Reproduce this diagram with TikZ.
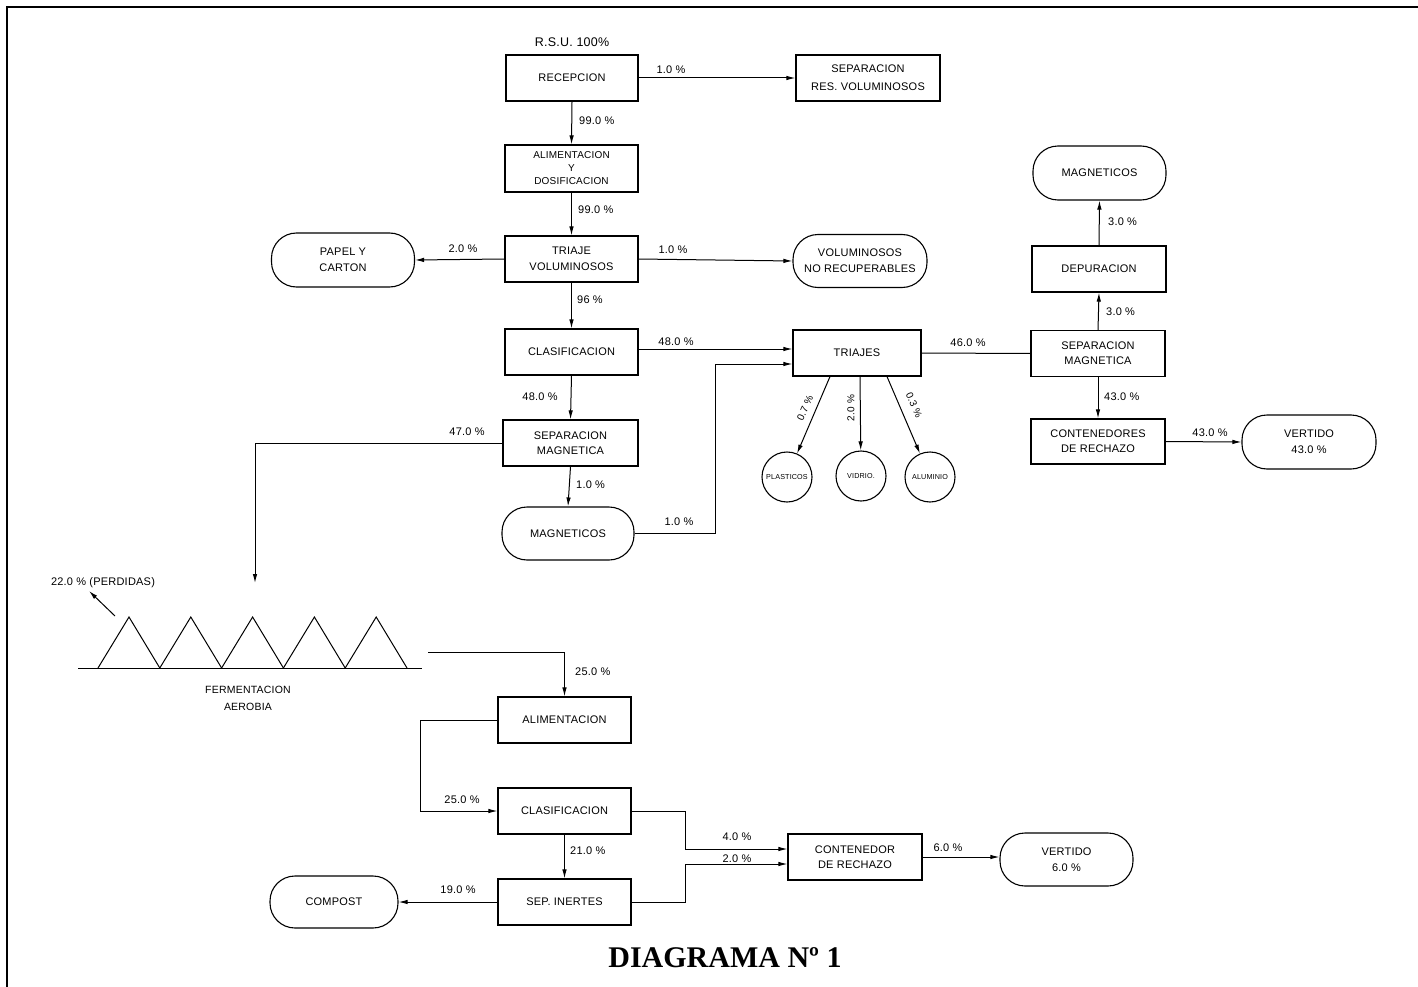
\documentclass[tikz,border=0pt]{standalone}
\usepackage{fontspec}
\setmainfont[LetterSpace=2]{Liberation Sans}
\newfontfamily\titlefont{Liberation Serif}
\usetikzlibrary{arrows.meta,calc}
\tikzset{
  box/.style={draw, line width=1.1pt, minimum width=133pt, minimum height=46pt, inner sep=0pt, align=center, font=\fontsize{11}{13}\selectfont},
  rbox/.style={draw, line width=1.1pt, rounded corners=25pt, minimum height=54pt, inner sep=0pt, align=center, font=\fontsize{11}{16}\selectfont},
  circ/.style={draw, line width=1.1pt, circle, minimum size=50pt, inner sep=0pt, font=\fontsize{7.2}{8}\selectfont},
  lbl/.style={inner sep=0pt, font=\fontsize{11}{13}\selectfont},
  arr/.style={line width=1pt, -{Latex[length=9pt,width=4.5pt]}},
  ln/.style={line width=1pt},
}
\begin{document}
\begin{tikzpicture}[x=1pt,y=-1pt]
\useasboundingbox (0,0) rectangle (1418,987);
% frame
\draw[line width=1.6pt] (7,987) -- (7,7) -- (1418,7);

% ---- top column ----
\node[lbl, font=\fontsize{12.5}{14}\selectfont] (rsu) at (572,42) {R.S.U. 100\%};
\node[box, minimum width=132pt] (rec) at (572,78) {RECEPCION};
\node[box, minimum width=144pt] (sepvol) at (868,78) {SEPARACION\\[5pt]RES. VOLUMINOSOS};
\node[box, minimum height=47pt, font=\fontsize{10}{13}\selectfont] (alim) at (571.5,168.5) {ALIMENTACION\\Y\\DOSIFICACION};
\node[box] (triv) at (571.5,259) {TRIAJE\\[3pt]VOLUMINOSOS};
\node[rbox, minimum width=143pt] (papel) at (343,260) {PAPEL Y\\CARTON};
\node[rbox, minimum width=134pt, minimum height=53pt] (volnr) at (860,261) {VOLUMINOSOS\\NO RECUPERABLES};
\node[box] (clas) at (571.5,352) {CLASIFICACION};
\node[box, minimum width=135pt] (sepml) at (570.5,443) {SEPARACION\\[2pt]MAGNETICA};
\node[rbox, minimum width=132pt, minimum height=53pt] (magl) at (568,533.5) {MAGNETICOS};

% ---- triajes ----
\node[box, minimum width=128pt] (triajes) at (857,353) {TRIAJES};
\node[circ] (plast) at (787,477) {PLASTICOS};
\node[circ] (vidrio) at (861,476) {VIDRIO.};
\node[circ] (alum) at (930,477) {ALUMINIO};

% ---- right column ----
\node[box, minimum width=134pt] (sepmr) at (1098,353.5) {SEPARACION\\[2pt]MAGNETICA};
\node[box, minimum width=134pt] (depur) at (1099,269) {DEPURACION};
\node[rbox, minimum width=133pt] (magr) at (1099.5,173) {MAGNETICOS};
\node[box, minimum width=134pt, minimum height=45pt] (contr) at (1098,441.5) {CONTENEDORES\\[2pt]DE RECHAZO};
\node[rbox, minimum width=134pt] (vert43) at (1309,442) {VERTIDO\\43.0 \%};

% ---- bottom ----
\node[box] (alimb) at (564.5,720) {ALIMENTACION};
\node[box] (clasb) at (564.5,811) {CLASIFICACION};
\node[box] (sepin) at (564.5,902) {SEP. INERTES};
\node[rbox, minimum width=128pt, minimum height=52pt] (compost) at (334,902) {COMPOST};
\node[box, minimum width=134pt] (cont) at (855,857) {CONTENEDOR\\[2pt]DE RECHAZO};
\node[rbox, minimum width=133pt, minimum height=53pt] (vert6) at (1066.5,859.5) {VERTIDO\\6.0 \%};

% ---- fermentation ----
\draw[ln] (78,668) -- (422,668);
\foreach \i in {0,...,4}{
  \draw[ln] ({98+61.8*\i},668) -- ({129+61.8*\i},617) -- ({159.8+61.8*\i},668);
}
\node[lbl, align=center, font=\fontsize{10.5}{17}\selectfont] (ferm) at (248,698) {FERMENTACION\\AEROBIA};
\coordinate (fermin) at (255,583);
\coordinate (fermout) at (428,652);
\coordinate (lossA) at (115,616);
\coordinate (lossB) at (89,591);
\node[lbl] (loss) at (103,583) {22.0 \% (PERDIDAS)};

% ---- connectors ----
\draw[arr] (rec.east) -- (sepvol.west);
\node[lbl] at (671,70) {1.0 \%};
\draw[arr] (rec.south) -- (alim.north);
\node[lbl, anchor=west] at (579,121) {99.0 \%};
\draw[arr] (alim.south) -- (triv.north);
\node[lbl, anchor=west] at (578,210) {99.0 \%};
\draw[arr] (triv.west) -- (papel.east);
\node[lbl] at (463,249) {2.0 \%};
\draw[arr] (triv.east) -- (volnr.west);
\node[lbl] at (673,250) {1.0 \%};
\draw[arr] (triv.south) -- (clas.north);
\node[lbl, anchor=west] at (577,300) {96 \%};
\coordinate (t1) at (793,349);
\draw[arr] (clas.east |- t1) -- (triajes.west |- t1);
\node[lbl] at (676,342) {48.0 \%};
\draw[arr] (clas.south) -- (sepml.north);
\node[lbl] at (540,397) {48.0 \%};
\draw[arr] (sepml.west) -| (fermin);
\node[lbl] at (467,432) {47.0 \%};
\draw[arr] (sepml.south) -- (magl.north);
\node[lbl, anchor=west] at (576,485) {1.0 \%};
\coordinate (m1) at (715,364);
\draw[arr] (magl.east) -| (m1) -- (triajes.west |- m1);
\node[lbl] at (679,522) {1.0 \%};

\draw[arr] ([xshift=-27pt]triajes.south) -- (plast);
\draw[arr] ([xshift=3pt]triajes.south) -- (vidrio);
\draw[arr] ([xshift=30pt]triajes.south) -- (alum);
\node[lbl, rotate=66, font=\fontsize{10}{12}\selectfont] at (805,408) {0.7 \%};
\node[lbl, rotate=90, font=\fontsize{10}{12}\selectfont] at (851,408) {2.0 \%};
\node[lbl, rotate=-66, font=\fontsize{10}{12}\selectfont] at (914,405) {0.3 \%};

\draw[ln] (triajes.east) -- (sepmr.west);
\node[lbl] at (968,343) {46.0 \%};
\draw[arr] (sepmr.north) -- (depur.south);
\node[lbl, anchor=west] at (1106,312) {3.0 \%};
\draw[arr] (depur.north) -- (magr.south);
\node[lbl, anchor=west] at (1108,222) {3.0 \%};
\draw[arr] (sepmr.south) -- (contr.north);
\node[lbl, anchor=west] at (1104,397) {43.0 \%};
\draw[arr] (contr.east) -- (vert43.west);
\node[lbl] at (1210,433) {43.0 \%};

\draw[arr] (lossA) -- (lossB);
\draw[arr] (fermout) -| (alimb.north);
\node[lbl, anchor=west] at (575,672) {25.0 \%};
\coordinate (a1) at (420,720);
\draw[arr] (alimb.west) -- (a1) |- (clasb.west);
\node[lbl] at (462,800) {25.0 \%};
\draw[arr] (clasb.south) -- (sepin.north);
\node[lbl, anchor=west] at (570,851) {21.0 \%};
\draw[arr] (sepin.west) -- (compost.east);
\node[lbl] at (458,890) {19.0 \%};
\coordinate (c1) at (685,849);
\coordinate (c2) at (685,864);
\draw[arr] (clasb.east) -| (c1) -- (cont.west |- c1);
\draw[arr] (sepin.east) -| (c2) -- (cont.west |- c2);
\node[lbl] at (737,837) {4.0 \%};
\node[lbl] at (737,859) {2.0 \%};
\draw[arr] (cont.east) -- (vert6.west |- cont.east);
\node[lbl] at (948,848) {6.0 \%};

% ---- title ----
\node[inner sep=0pt, font=\titlefont\bfseries\fontsize{30}{32}\selectfont] (title) at (725,958) {DIAGRAMA N\textordmasculine\ 1};
\end{tikzpicture}
\end{document}
